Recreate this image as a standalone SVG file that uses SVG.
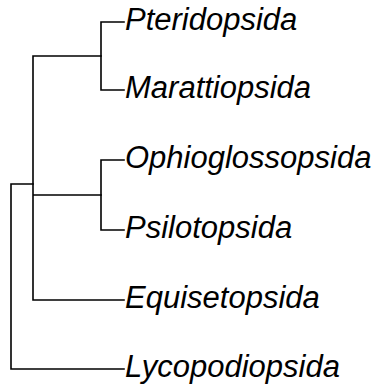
<svg xmlns="http://www.w3.org/2000/svg" width="376" height="384" viewBox="0 0 376 384">
<style>
.e{fill:none;stroke:#000;stroke-width:1.6;stroke-linecap:square}
.t{font-family:"Liberation Sans",Arial,sans-serif;font-style:italic;font-size:31px;fill:#000}
</style>
<rect width="376" height="384" fill="#fff"/>
<g id="connectors">
<path class="e" d="M101,22V90M101,22H124M101,90H124"/>
<path class="e" d="M101,160V230M101,160H124M101,230H124"/>
<path class="e" d="M33,56V300M33,56H101M33,195H101M33,300H124"/>
<path class="e" d="M11,184V369M11,184H33M11,369H124"/>
</g>
<g id="n-pteridopsida"><text class="t" x="125" y="30">Pteridopsida</text></g>
<g id="n-marattiopsida"><text class="t" x="125" y="98">Marattiopsida</text></g>
<g id="n-ophioglossopsida"><text class="t" x="125" y="168">Ophioglossopsida</text></g>
<g id="n-psilotopsida"><text class="t" x="125" y="238">Psilotopsida</text></g>
<g id="n-equisetopsida"><text class="t" x="125" y="308">Equisetopsida</text></g>
<g id="n-lycopodiopsida"><text class="t" x="125" y="377">Lycopodiopsida</text></g>
</svg>
